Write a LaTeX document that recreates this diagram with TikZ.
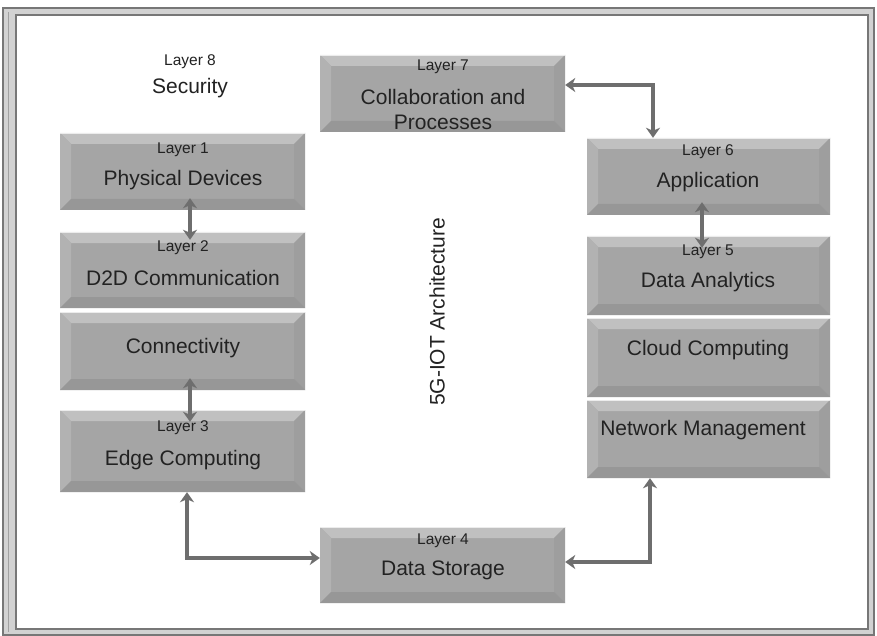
\documentclass[tikz,border=0pt]{standalone}
\usepackage{fontspec}
\setmainfont{Liberation Sans}
\usetikzlibrary{arrows.meta}
\definecolor{boxmid}{HTML}{A5A5A5}
\definecolor{bevtop}{HTML}{C0C0C0}
\definecolor{bevleft}{HTML}{B2B2B2}
\definecolor{bevright}{HTML}{9E9E9E}
\definecolor{bevbot}{HTML}{979797}
\definecolor{arrgray}{HTML}{6E6E6E}
\definecolor{txt}{HTML}{222222}
\definecolor{framedark}{HTML}{777777}
\definecolor{framefill}{HTML}{D2D2D2}
\tikzset{
  box/.style={rectangle, inner sep=0pt, fill=boxmid,
    path picture={
      \fill[bevtop] (path picture bounding box.north west) -- (path picture bounding box.north east)
        -- ([shift={(-11pt,-11pt)}]path picture bounding box.north east)
        -- ([shift={(11pt,-11pt)}]path picture bounding box.north west) -- cycle;
      \fill[bevleft] (path picture bounding box.north west) -- ([shift={(11pt,-11pt)}]path picture bounding box.north west)
        -- ([shift={(11pt,11pt)}]path picture bounding box.south west)
        -- (path picture bounding box.south west) -- cycle;
      \fill[bevright] (path picture bounding box.north east) -- ([shift={(-11pt,-11pt)}]path picture bounding box.north east)
        -- ([shift={(-11pt,11pt)}]path picture bounding box.south east)
        -- (path picture bounding box.south east) -- cycle;
      \fill[bevbot] (path picture bounding box.south west) -- (path picture bounding box.south east)
        -- ([shift={(-11pt,11pt)}]path picture bounding box.south east)
        -- ([shift={(11pt,11pt)}]path picture bounding box.south west) -- cycle;
      \draw[white, opacity=0.7, line width=1.5pt] (path picture bounding box.north west) -- (path picture bounding box.north east);
    }},
  lay/.style={text=txt, font=\fontsize{15.5}{18}\selectfont, inner sep=0pt},
  mainlbl/.style={text=txt, font=\fontsize{21}{25}\selectfont, inner sep=0pt, align=center},
  arr/.style={draw=arrgray, line width=3.5pt, {Stealth[length=10pt,width=14pt,inset=3pt]}-{Stealth[length=10pt,width=14pt,inset=3pt]}},
}
\begin{document}
\begin{tikzpicture}[x=1pt,y=-1pt]
\useasboundingbox (0,0) rectangle (877,636);
\fill[white] (0,0) rectangle (877,636);
% frame
\fill[framefill, even odd rule] (3,8) rectangle (874,635) (16,15) rectangle (868,629);
\draw[framedark, line width=1.2pt] (3,8) rectangle (874,635);
\draw[framedark, line width=1.8pt] (16,15) rectangle (868,629);
\draw[framedark!70, line width=0.6pt] (8,12) -- (8,632);

% boxes
\node[box, minimum width=245pt, minimum height=77pt] (L1) at (182.5,171.5) {};
\node[box, minimum width=245pt, minimum height=76pt] (L2) at (182.5,270) {};
\node[box, minimum width=245pt, minimum height=78pt] (C) at (182.5,351) {};
\node[box, minimum width=245pt, minimum height=82pt] (L3) at (182.5,451) {};
\node[box, minimum width=245pt, minimum height=77pt] (L7) at (442.5,93.5) {};
\node[box, minimum width=245pt, minimum height=76pt] (L4) at (442.5,565) {};
\node[box, minimum width=243pt, minimum height=77pt] (L6) at (708.5,176.5) {};
\node[box, minimum width=243pt, minimum height=79pt] (L5) at (708.5,275.5) {};
\node[box, minimum width=243pt, minimum height=79pt] (CC) at (708.5,357.5) {};
\node[box, minimum width=243pt, minimum height=78pt] (NM) at (708.5,439) {};

% texts
\node[lay] (t8) at (190,62) {Layer 8};
\node[mainlbl] (s8) at (190,88) {Security};
\node[lay] (t1) at (183,150) {Layer 1};
\node[mainlbl] (s1) at (183,180) {Physical Devices};
\node[lay] (t2) at (183,248) {Layer 2};
\node[mainlbl] (s2) at (183,278) {D2D Communication};
\node[mainlbl] (sc) at (183,348) {Connectivity};
\node[lay] (t3) at (183,428) {Layer 3};
\node[mainlbl] (s3) at (183,460) {Edge Computing};
\node[lay] (t7) at (443,67) {Layer 7};
\node[mainlbl] (s7a) at (443,97) {Collaboration and};
\node[mainlbl] (s7b) at (443,122) {Processes};
\node[lay] (t4) at (443,541) {Layer 4};
\node[mainlbl] (s4) at (443,570) {Data Storage};
\node[lay] (t6) at (708,152) {Layer 6};
\node[mainlbl] (s6) at (708,182) {Application};
\node[lay] (t5) at (708,252) {Layer 5};
\node[mainlbl] (s5) at (708,282) {Data Analytics};
\node[mainlbl] (scc) at (708,350) {Cloud Computing};
\node[mainlbl] (snm) at (703,430) {Network Management};
\node[mainlbl, rotate=90] (arch) at (437,312) {5G-IOT Architecture};

% connectors
\draw[arr, shorten <=-12pt, shorten >=-8pt] ([xshift=7.5pt]L1.south) -- ([xshift=7.5pt]L2.north);
\draw[arr, shorten <=-12pt, shorten >=-12pt] ([xshift=7.5pt]C.south) -- ([xshift=7.5pt]L3.north);
\draw[arr] ([xshift=4.5pt]L3.south) |- ([yshift=7pt]L4.west);
\draw[arr] ([yshift=3pt]L4.east) -| ([xshift=-58.5pt]NM.south);
\draw[arr] ([yshift=8.5pt]L7.east) -| ([xshift=-55.5pt]L6.north);
\draw[arr, shorten <=-13pt, shorten >=-12pt] ([xshift=-6.5pt]L6.south) -- ([xshift=-6.5pt]L5.north);
\end{tikzpicture}
\end{document}
